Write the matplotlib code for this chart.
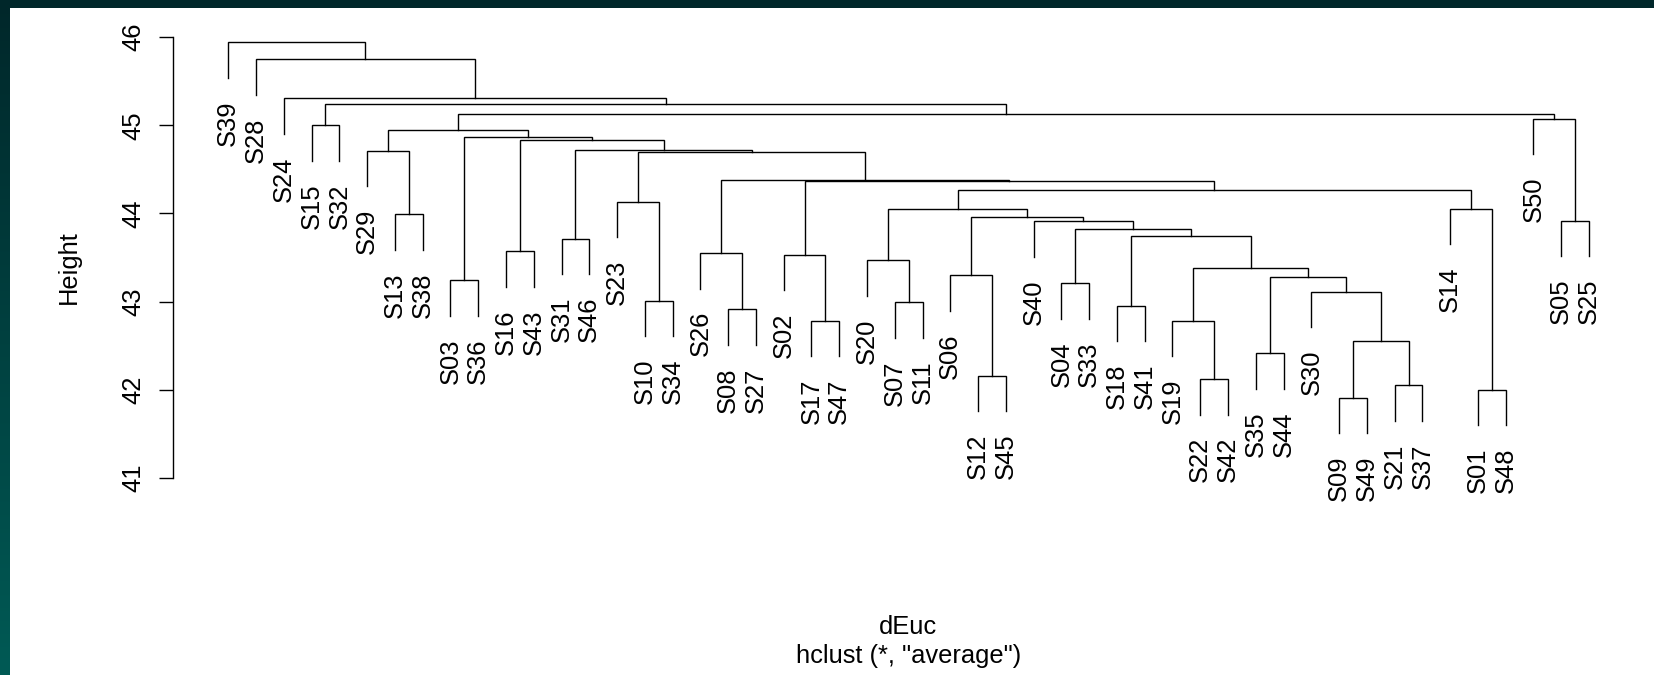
import numpy as np
import matplotlib
matplotlib.use("Agg")
import matplotlib.pyplot as plt

# ---- data: leaf order and merge table (R hclust style) ----
labels = ["S39", "S28", "S24", "S15", "S32", "S29", "S13", "S38", "S03", "S36",
          "S16", "S43", "S31", "S46", "S23", "S10", "S34", "S26", "S08", "S27",
          "S02", "S17", "S47", "S20", "S07", "S11", "S06", "S12", "S45", "S40",
          "S04", "S33", "S18", "S41", "S19", "S22", "S42", "S35", "S44", "S30",
          "S09", "S49", "S21", "S37", "S14", "S01", "S48", "S50", "S05", "S25"]

# children: leaf name (str) or index of an earlier merge (int)
merge_a = ["S09", "S01", "S21", "S22", "S12", "S35", 0, "S17", "S19", "S08",
           "S18", "S07", "S10", "S30", "S04", "S03", 5, "S06", 8, "S20",
           "S02", "S26", "S16", "S31", 10, 14, "S40", "S05", 17, "S13",
           19, "S14", "S23", 30, 20, 21, 32, "S29", 23, 22,
           15, 37, "S15", "S50", 41, 42, "S24", "S28", "S39"]
merge_b = ["S49", "S48", "S37", "S42", "S45", "S44", 2, "S47", 3, "S27",
           "S41", "S11", "S34", 6, "S33", "S36", 13, 4, 16, 11,
           7, 9, "S43", "S46", 18, 24, 25, "S25", 26, "S38",
           28, 1, 12, 31, 33, 34, 35, 29, 36, 38,
           39, 40, "S32", 27, 43, 44, 45, 46, 47]
merge_h = [41.91, 42.00, 42.05, 42.12, 42.16, 42.41, 42.55, 42.78, 42.78, 42.91,
           42.95, 42.99, 43.01, 43.11, 43.205, 43.24, 43.277, 43.30, 43.38, 43.47,
           43.53, 43.55, 43.57, 43.71, 43.745, 43.82, 43.913, 43.917, 43.955, 43.99,
           44.053, 44.053, 44.13, 44.27, 44.368, 44.383, 44.693, 44.71, 44.716, 44.83,
           44.87, 44.944, 45.00, 45.072, 45.13, 45.247, 45.307, 45.747, 45.944]

yticks = [41, 42, 43, 44, 45, 46]

W, H = 1654, 675
fig = plt.figure(figsize=(W / 100, H / 100), dpi=100)
fig.patch.set_facecolor("white")

# dark teal frame (top strip + left gradient strip)
grad = np.linspace(0, 1, 256)[:, None]
c_top = np.array([0, 39, 42]) / 255.0
c_bot = np.array([0, 90, 85]) / 255.0
img = c_top[None, None, :] * (1 - grad[..., None]) + c_bot[None, None, :] * grad[..., None]
axl = fig.add_axes([0, 0, 10 / W, 1])
axl.imshow(img, aspect="auto", extent=[0, 1, 0, 1])
axl.set_axis_off()
fig.patches.append(plt.Rectangle((0, 1 - 8 / H), 1, 8 / H, transform=fig.transFigure,
                                 facecolor="#00272A", edgecolor="none", zorder=5))

# main axes placed in pixels
spine_px = 173.3
leaf1_px = 228.3
spacing = 27.77
y46_px, unit_px = 37.2, 88.1
x0 = 1 - (leaf1_px - spine_px) / spacing
x1 = 1 + (W - leaf1_px) / spacing
top = 1 - y46_px / H
bottom = 1 - (y46_px + 5 * unit_px) / H
ax = fig.add_axes([spine_px / W, bottom, 1 - spine_px / W, top - bottom])
ax.set_xlim(x0, x1)
ax.set_ylim(41, 46)
ax.patch.set_alpha(0)

leaf_x = {name: i + 1 for i, name in enumerate(labels)}
hang = 0.1 * (max(merge_h) - min(merge_h))
node_x = []
leaf_parent_h = {}

def child_pos(c, h):
    if isinstance(c, str):
        leaf_parent_h[c] = h
        return leaf_x[c], h - hang
    return node_x[c], merge_h[c]

for a, b, h in zip(merge_a, merge_b, merge_h):
    xa, ya = child_pos(a, h)
    xb, yb = child_pos(b, h)
    ax.plot([xa, xa, xb, xb], [ya, h, h, yb], color="black", lw=1.0,
            solid_joinstyle="miter", clip_on=False)
    node_x.append((xa + xb) / 2)

gap = 22.5 / unit_px
for name in labels:
    y_end = leaf_parent_h[name] - hang
    ax.text(leaf_x[name], y_end - gap, name, rotation=90, rotation_mode="anchor",
            ha="right", va="center", fontsize=18.4, family="Liberation Sans",
            color="black", clip_on=False)

for s in ["top", "right", "bottom"]:
    ax.spines[s].set_visible(False)
ax.spines["left"].set_linewidth(1.0)
ax.set_xticks([])
ax.set_yticks(yticks)
ax.set_yticklabels([str(t) for t in yticks])
ax.tick_params(axis="y", length=10.0, width=1.0, pad=19, labelsize=18.4)
for lab in ax.get_yticklabels():
    lab.set_rotation(90)
    lab.set_family("Liberation Sans")
    lab.set_ha("center")
    lab.set_va("center")
    lab.set_rotation_mode("anchor")

fig.text(69 / W, 1 - 267.5 / H, "Height", rotation=90, ha="center", va="center",
         fontsize=18.4, family="Liberation Sans")
fig.text(907.5 / W, 1 - 634.5 / H, "dEuc", ha="center", va="baseline",
         fontsize=18.4, family="Liberation Sans")
fig.text(908.3 / W, 1 - 663.0 / H, 'hclust (*, "average")', ha="center", va="baseline",
         fontsize=18.4, family="Liberation Sans")

fig.savefig("out.png", dpi=100, facecolor="white")
